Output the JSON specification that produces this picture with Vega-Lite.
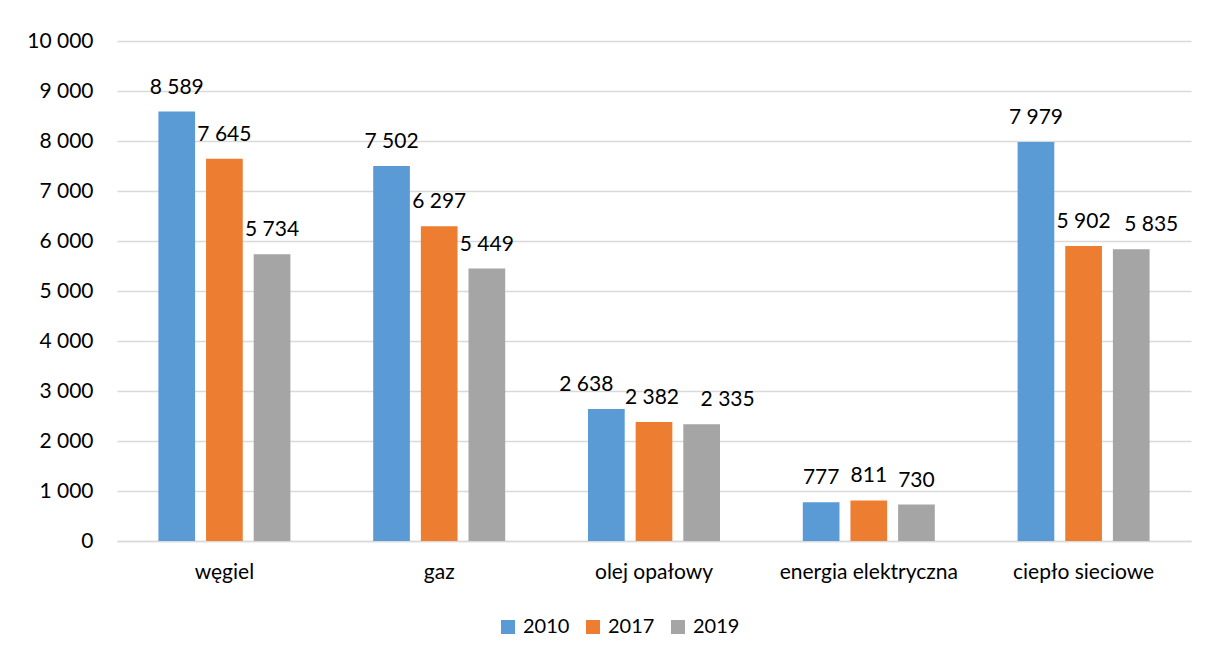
{
  "$schema": "https://vega.github.io/schema/vega-lite/v6.json",
  "width": 1074,
  "height": 500,
  "autosize": {"type": "none"},
  "padding": {"left": 117, "top": 41, "right": 18, "bottom": 116},
  "background": "#ffffff",
  "config": {
    "locale": {"number": {"decimal": ",", "thousands": " ", "grouping": [3], "currency": ["", " zł"]}},
    "font": "Lato",
    "view": {"stroke": null},
    "axis": {"labelFont": "Lato", "labelFontSize": 21, "labelColor": "#000000", "titleFont": "Lato"},
    "legend": {"labelFont": "Lato", "labelFontSize": 21, "labelColor": "#000000"}
  },
  "data": {
    "values": [
      {"kategoria": "węgiel", "rok": "2010", "wartosc": 8589},
      {"kategoria": "węgiel", "rok": "2017", "wartosc": 7645},
      {"kategoria": "węgiel", "rok": "2019", "wartosc": 5734},
      {"kategoria": "gaz", "rok": "2010", "wartosc": 7502},
      {"kategoria": "gaz", "rok": "2017", "wartosc": 6297},
      {"kategoria": "gaz", "rok": "2019", "wartosc": 5449},
      {"kategoria": "olej opałowy", "rok": "2010", "wartosc": 2638},
      {"kategoria": "olej opałowy", "rok": "2017", "wartosc": 2382},
      {"kategoria": "olej opałowy", "rok": "2019", "wartosc": 2335},
      {"kategoria": "energia elektryczna", "rok": "2010", "wartosc": 777},
      {"kategoria": "energia elektryczna", "rok": "2017", "wartosc": 811},
      {"kategoria": "energia elektryczna", "rok": "2019", "wartosc": 730},
      {"kategoria": "ciepło sieciowe", "rok": "2010", "wartosc": 7979},
      {"kategoria": "ciepło sieciowe", "rok": "2017", "wartosc": 5902},
      {"kategoria": "ciepło sieciowe", "rok": "2019", "wartosc": 5835}
    ]
  },
  "encoding": {
    "x": {
      "field": "kategoria",
      "type": "nominal",
      "sort": ["węgiel", "gaz", "olej opałowy", "energia elektryczna", "ciepło sieciowe"],
      "scale": {"paddingInner": 0.3855, "paddingOuter": 0.19275},
      "axis": {
        "title": null,
        "labelAngle": 0,
        "ticks": false,
        "tickSize": 0,
        "domain": true,
        "domainColor": "#D9D9D9",
        "domainWidth": 1.5,
        "labelPadding": 37,
        "labelBaseline": "alphabetic",
        "grid": false
      }
    },
    "xOffset": {
      "field": "rok",
      "type": "nominal",
      "scale": {"paddingInner": 0.23, "paddingOuter": 0}
    },
    "y": {
      "field": "wartosc",
      "type": "quantitative",
      "scale": {"domain": [0, 10000], "nice": false},
      "axis": {
        "title": null,
        "values": [0, 1000, 2000, 3000, 4000, 5000, 6000, 7000, 8000, 9000, 10000],
        "format": ",d",
        "domain": false,
        "ticks": false,
        "tickSize": 0,
        "labelPadding": 24,
        "grid": true,
        "gridColor": "#D9D9D9",
        "gridWidth": 1.5
      }
    }
  },
  "layer": [
    {
      "mark": {"type": "bar"},
      "encoding": {
        "color": {
          "field": "rok",
          "type": "nominal",
          "scale": {"domain": ["2010", "2017", "2019"], "range": ["#5B9BD5", "#ED7D31", "#A5A5A5"]},
          "legend": {
            "title": null,
            "orient": "none",
            "direction": "horizontal",
            "legendX": 381,
            "legendY": 576,
            "symbolType": "square",
            "symbolSize": 196,
            "symbolStrokeWidth": 0,
            "labelOffset": 5,
            "labelFontSize": 20,
            "columnPadding": 13
          }
        }
      }
    },
    {
      "mark": {
        "type": "text",
        "baseline": "alphabetic",
        "dy": -18,
        "dx": {"expr": "datum.kategoria == 'olej opałowy' ? (datum.rok == '2010' ? -20 : (datum.rok == '2019' ? 26 : -2)) : ((datum.kategoria == 'ciepło sieciowe' && datum.rok == '2019') ? 20 : 0)"},
        "fontSize": 21,
        "font": "Lato",
        "color": "#000000"
      },
      "encoding": {
        "text": {"field": "wartosc", "type": "quantitative", "format": ",d"}
      }
    }
  ]
}
